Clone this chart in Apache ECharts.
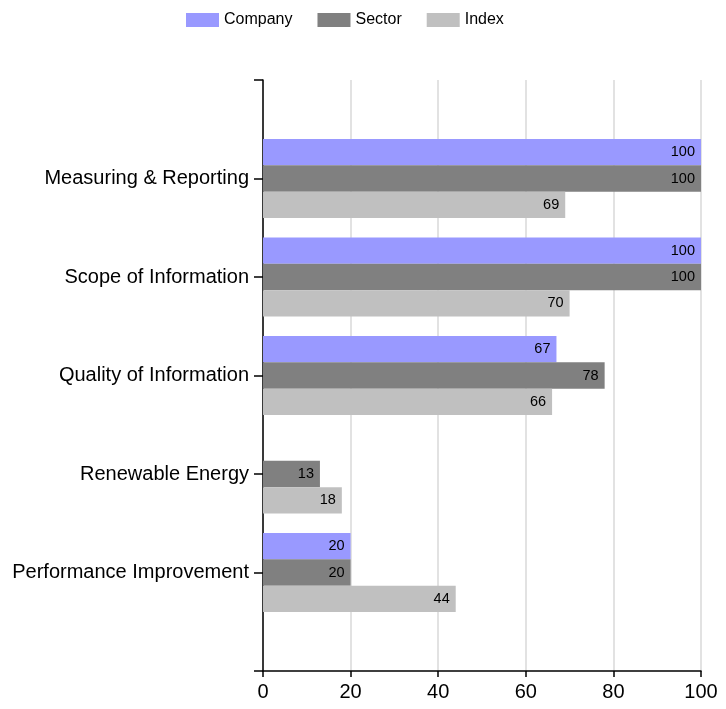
<!DOCTYPE html>
<html>
<head>
<meta charset="utf-8">
<script src="https://cdn.jsdelivr.net/npm/echarts@6/dist/echarts.min.js"></script>
<style>html,body{margin:0;padding:0;background:#fff}#c{width:726px;height:709px}</style>
</head>
<body>
<div id="c"></div>
<script>
const categories = ['Measuring & Reporting', 'Scope of Information', 'Quality of Information', 'Renewable Energy', 'Performance Improvement'];
const company = [100, 100, 67, null, 20];
const sector = [100, 100, 78, 13, 20];
const index = [69, 70, 66, 18, 44];
const xTicks = [0, 20, 40, 60, 80, 100];

function pad(a) { return [null].concat(a, [null]); }
const cats = [''].concat(categories, ['']);
const font = 'Liberation Sans, Arial, sans-serif';

const chart = echarts.init(document.getElementById('c'));
const lbl = { show: true, position: 'insideRight', color: '#000', fontSize: 14.5, fontFamily: font, distance: 6 };
function mk(name, data, color) {
  return { name, type: 'bar', data: pad(data), barWidth: 26.3, barGap: '0%',
    itemStyle: { color }, label: lbl, emphasis: { disabled: true } };
}
chart.setOption({
  animation: false,
  legend: { top: 7, left: 181, icon: 'rect', itemWidth: 33, itemHeight: 14, itemGap: 25,
    textStyle: { fontSize: 16, fontFamily: font, color: '#000' },
    data: ['Company', 'Sector', 'Index'] },
  grid: { left: 263, right: 25, top: 80, bottom: 38, containLabel: false },
  xAxis: { type: 'value', min: xTicks[0], max: xTicks[xTicks.length - 1], interval: 20,
    axisLine: { show: true, lineStyle: { color: '#000', width: 1.5 } },
    axisTick: { show: true, length: 6, lineStyle: { color: '#000', width: 1.5 } },
    axisLabel: { color: '#000', fontSize: 20, fontFamily: font, margin: 11 },
    splitLine: { show: true, lineStyle: { color: '#e2e2e2', width: 2 } } },
  yAxis: { type: 'category', data: cats, inverse: true, boundaryGap: false,
    axisLine: { show: true, lineStyle: { color: '#000', width: 1.5 } },
    axisTick: { show: true, length: 9, interval: 0, lineStyle: { color: '#000', width: 1.5 } },
    axisLabel: { color: '#000', fontSize: 20, fontFamily: font, interval: 0, margin: 14 },
    splitLine: { show: false } },
  series: [mk('Company', company, '#9999ff'), mk('Sector', sector, '#808080'), mk('Index', index, '#c0c0c0')]
});
</script>
</body>
</html>
